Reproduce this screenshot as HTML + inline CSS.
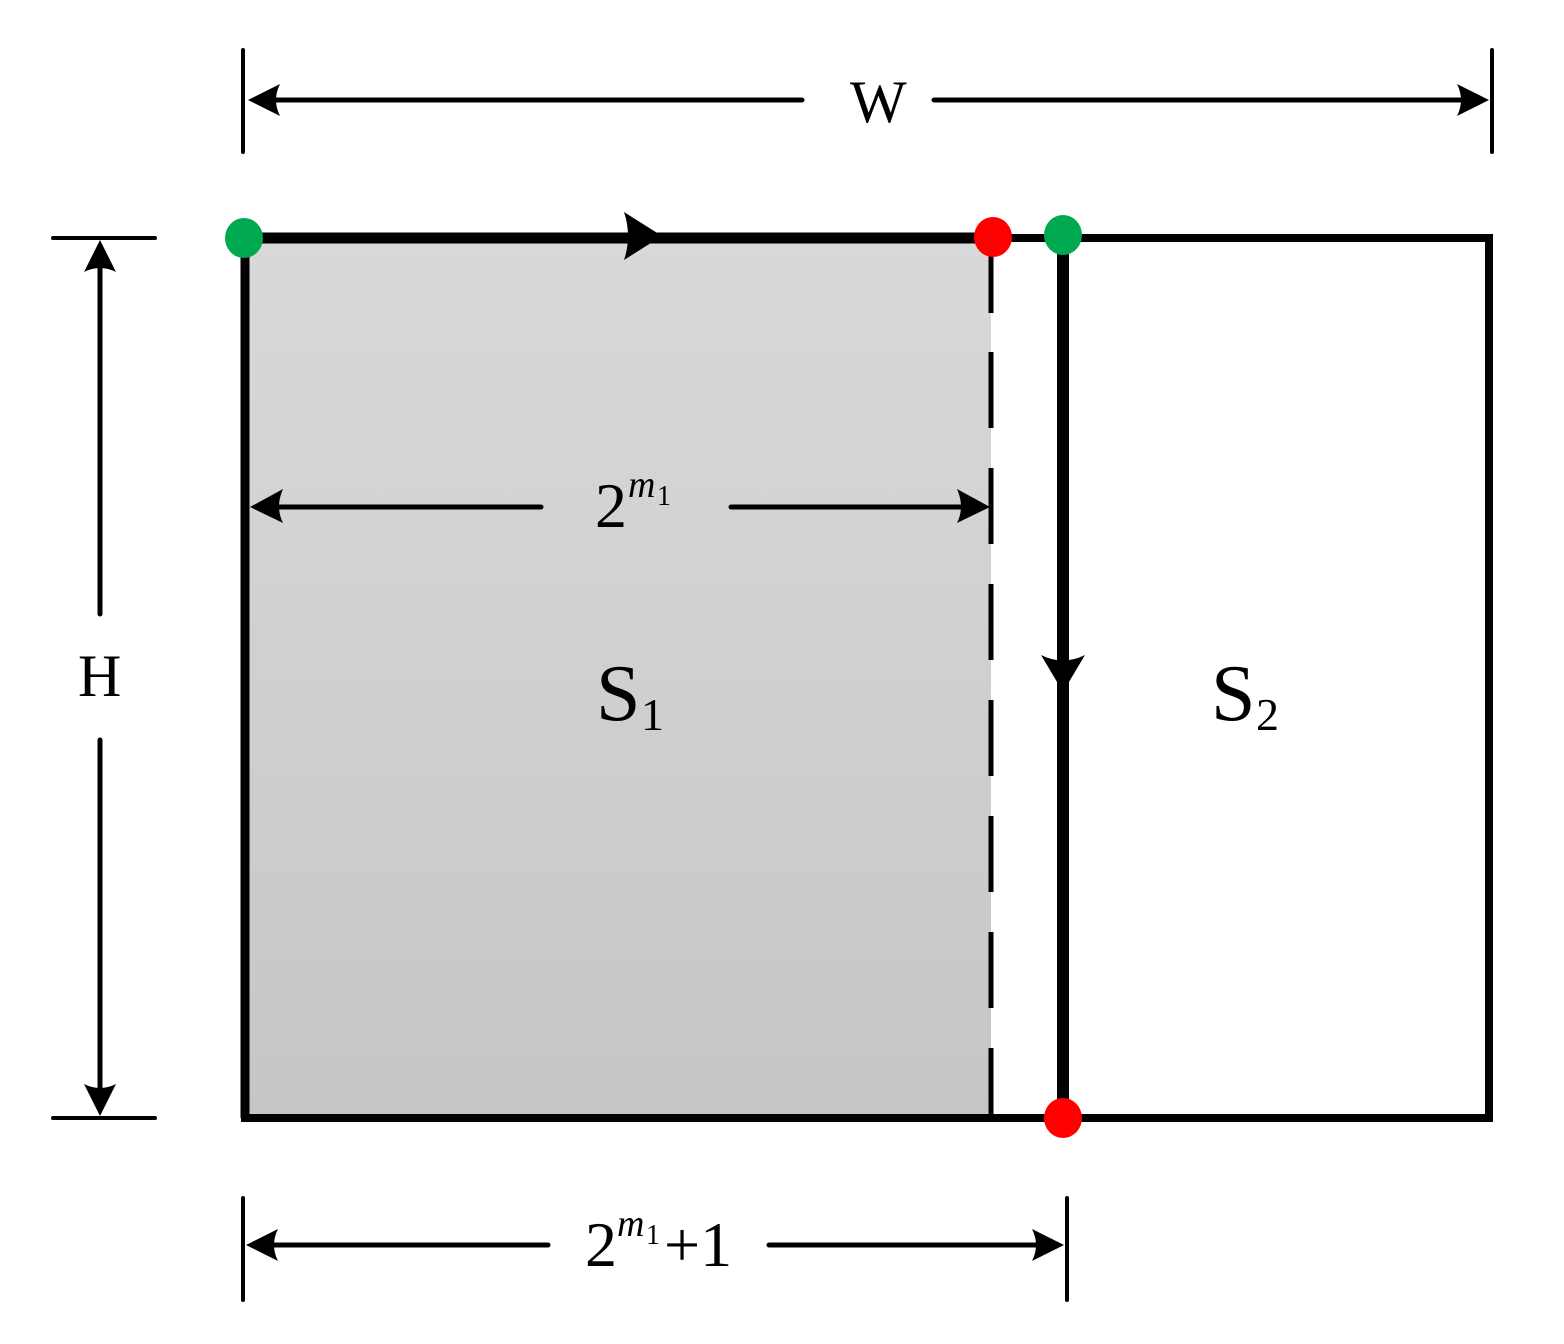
<!DOCTYPE html>
<html><head><meta charset="utf-8"><style>html,body{margin:0;padding:0;background:#fff}svg{display:block}text{font-family:"Liberation Serif","Times New Roman",serif}</style></head>
<body>
<svg width="1564" height="1344" viewBox="0 0 1564 1344" xmlns="http://www.w3.org/2000/svg">
<defs>
<linearGradient id="g" x1="0" y1="0" x2="0" y2="1"><stop offset="0" stop-color="#d9d9d9"/><stop offset="1" stop-color="#c6c6c6"/></linearGradient>
</defs>
<rect x="245" y="238" width="746" height="880" fill="url(#g)"/>
<g stroke="#000" stroke-linecap="round" fill="none">
<line x1="243" y1="50" x2="243" y2="152" stroke-width="4"/>
<line x1="1492" y1="50" x2="1492" y2="152" stroke-width="4"/>
<line x1="260" y1="100" x2="802" y2="100" stroke-width="5"/>
<line x1="934" y1="100" x2="1475" y2="100" stroke-width="5"/>
<line x1="53" y1="238" x2="155" y2="238" stroke-width="4"/>
<line x1="53" y1="1118" x2="155" y2="1118" stroke-width="4"/>
<line x1="100" y1="255" x2="100" y2="614" stroke-width="5"/>
<line x1="100" y1="740" x2="100" y2="1100" stroke-width="5"/>
<line x1="265" y1="507" x2="541" y2="507" stroke-width="5"/>
<line x1="731" y1="507" x2="975" y2="507" stroke-width="5"/>
<line x1="243" y1="1198" x2="243" y2="1300" stroke-width="4"/>
<line x1="1067" y1="1198" x2="1067" y2="1300" stroke-width="4"/>
<line x1="260" y1="1245" x2="548" y2="1245" stroke-width="5"/>
<line x1="769" y1="1245" x2="1050" y2="1245" stroke-width="5"/>
</g>
<g stroke="#000" fill="none">
<line x1="245" y1="238" x2="991" y2="238" stroke-width="11"/>
<line x1="991" y1="238" x2="1489" y2="238" stroke-width="8"/>
<line x1="245" y1="238" x2="245" y2="1118" stroke-width="9"/>
<line x1="241" y1="1118" x2="1493" y2="1118" stroke-width="8"/>
<line x1="1489" y1="234" x2="1489" y2="1118" stroke-width="8"/>
<line x1="1063" y1="238" x2="1063" y2="1118" stroke-width="12"/>
<line x1="991" y1="255" x2="991" y2="1118" stroke-width="5" stroke-dasharray="58,39,76,40,76,40,76,40,76,40,76,40,76,40,76,40,76,40"/>
</g>
<g fill="#000">
<path d="M248,100 L280,84 Q272,100 280,116 Z"/>
<path d="M1489,100 L1457,84 Q1465,100 1457,116 Z"/>
<path d="M100,240 L84,272 Q100,264 116,272 Z"/>
<path d="M100,1116 L84,1084 Q100,1092 116,1084 Z"/>
<path d="M250,507 L283,489 Q275,507 283,523 Z"/>
<path d="M990,507 L957,489 Q965,507 957,523 Z"/>
<path d="M246,1245 L278,1229 Q270,1245 278,1261 Z"/>
<path d="M1064,1245 L1032,1229 Q1040,1245 1032,1261 Z"/>
<path d="M662,236 L624,212 Q632,236 624,260 Z"/>
<path d="M1063,692 L1041,655 Q1063,666 1085,655 Z"/>
</g>
<ellipse cx="244" cy="238" rx="19" ry="20" fill="#00a84f"/>
<ellipse cx="993" cy="237" rx="19" ry="20" fill="#ff0000"/>
<ellipse cx="1063" cy="235" rx="19" ry="20" fill="#00a84f"/>
<ellipse cx="1063" cy="1118" rx="19" ry="20" fill="#ff0000"/>
<g fill="#000">
<text x="850" y="122" font-size="60">W</text>
<text x="78" y="696" font-size="60">H</text>
<text x="595" y="527" font-size="64">2</text>
<text x="628" y="497" font-size="38" font-style="italic">m</text>
<text x="657" y="505" font-size="28">1</text>
<text x="585" y="1266" font-size="64">2</text>
<text x="617" y="1236" font-size="38" font-style="italic">m</text>
<text x="646" y="1244" font-size="28">1</text>
<text x="664" y="1266" font-size="64">+1</text>
<text x="596" y="720" font-size="80">S</text>
<text x="641" y="730" font-size="46">1</text>
<text x="1211" y="720" font-size="80">S</text>
<text x="1256" y="730" font-size="46">2</text>
</g>
</svg>
</body></html>
